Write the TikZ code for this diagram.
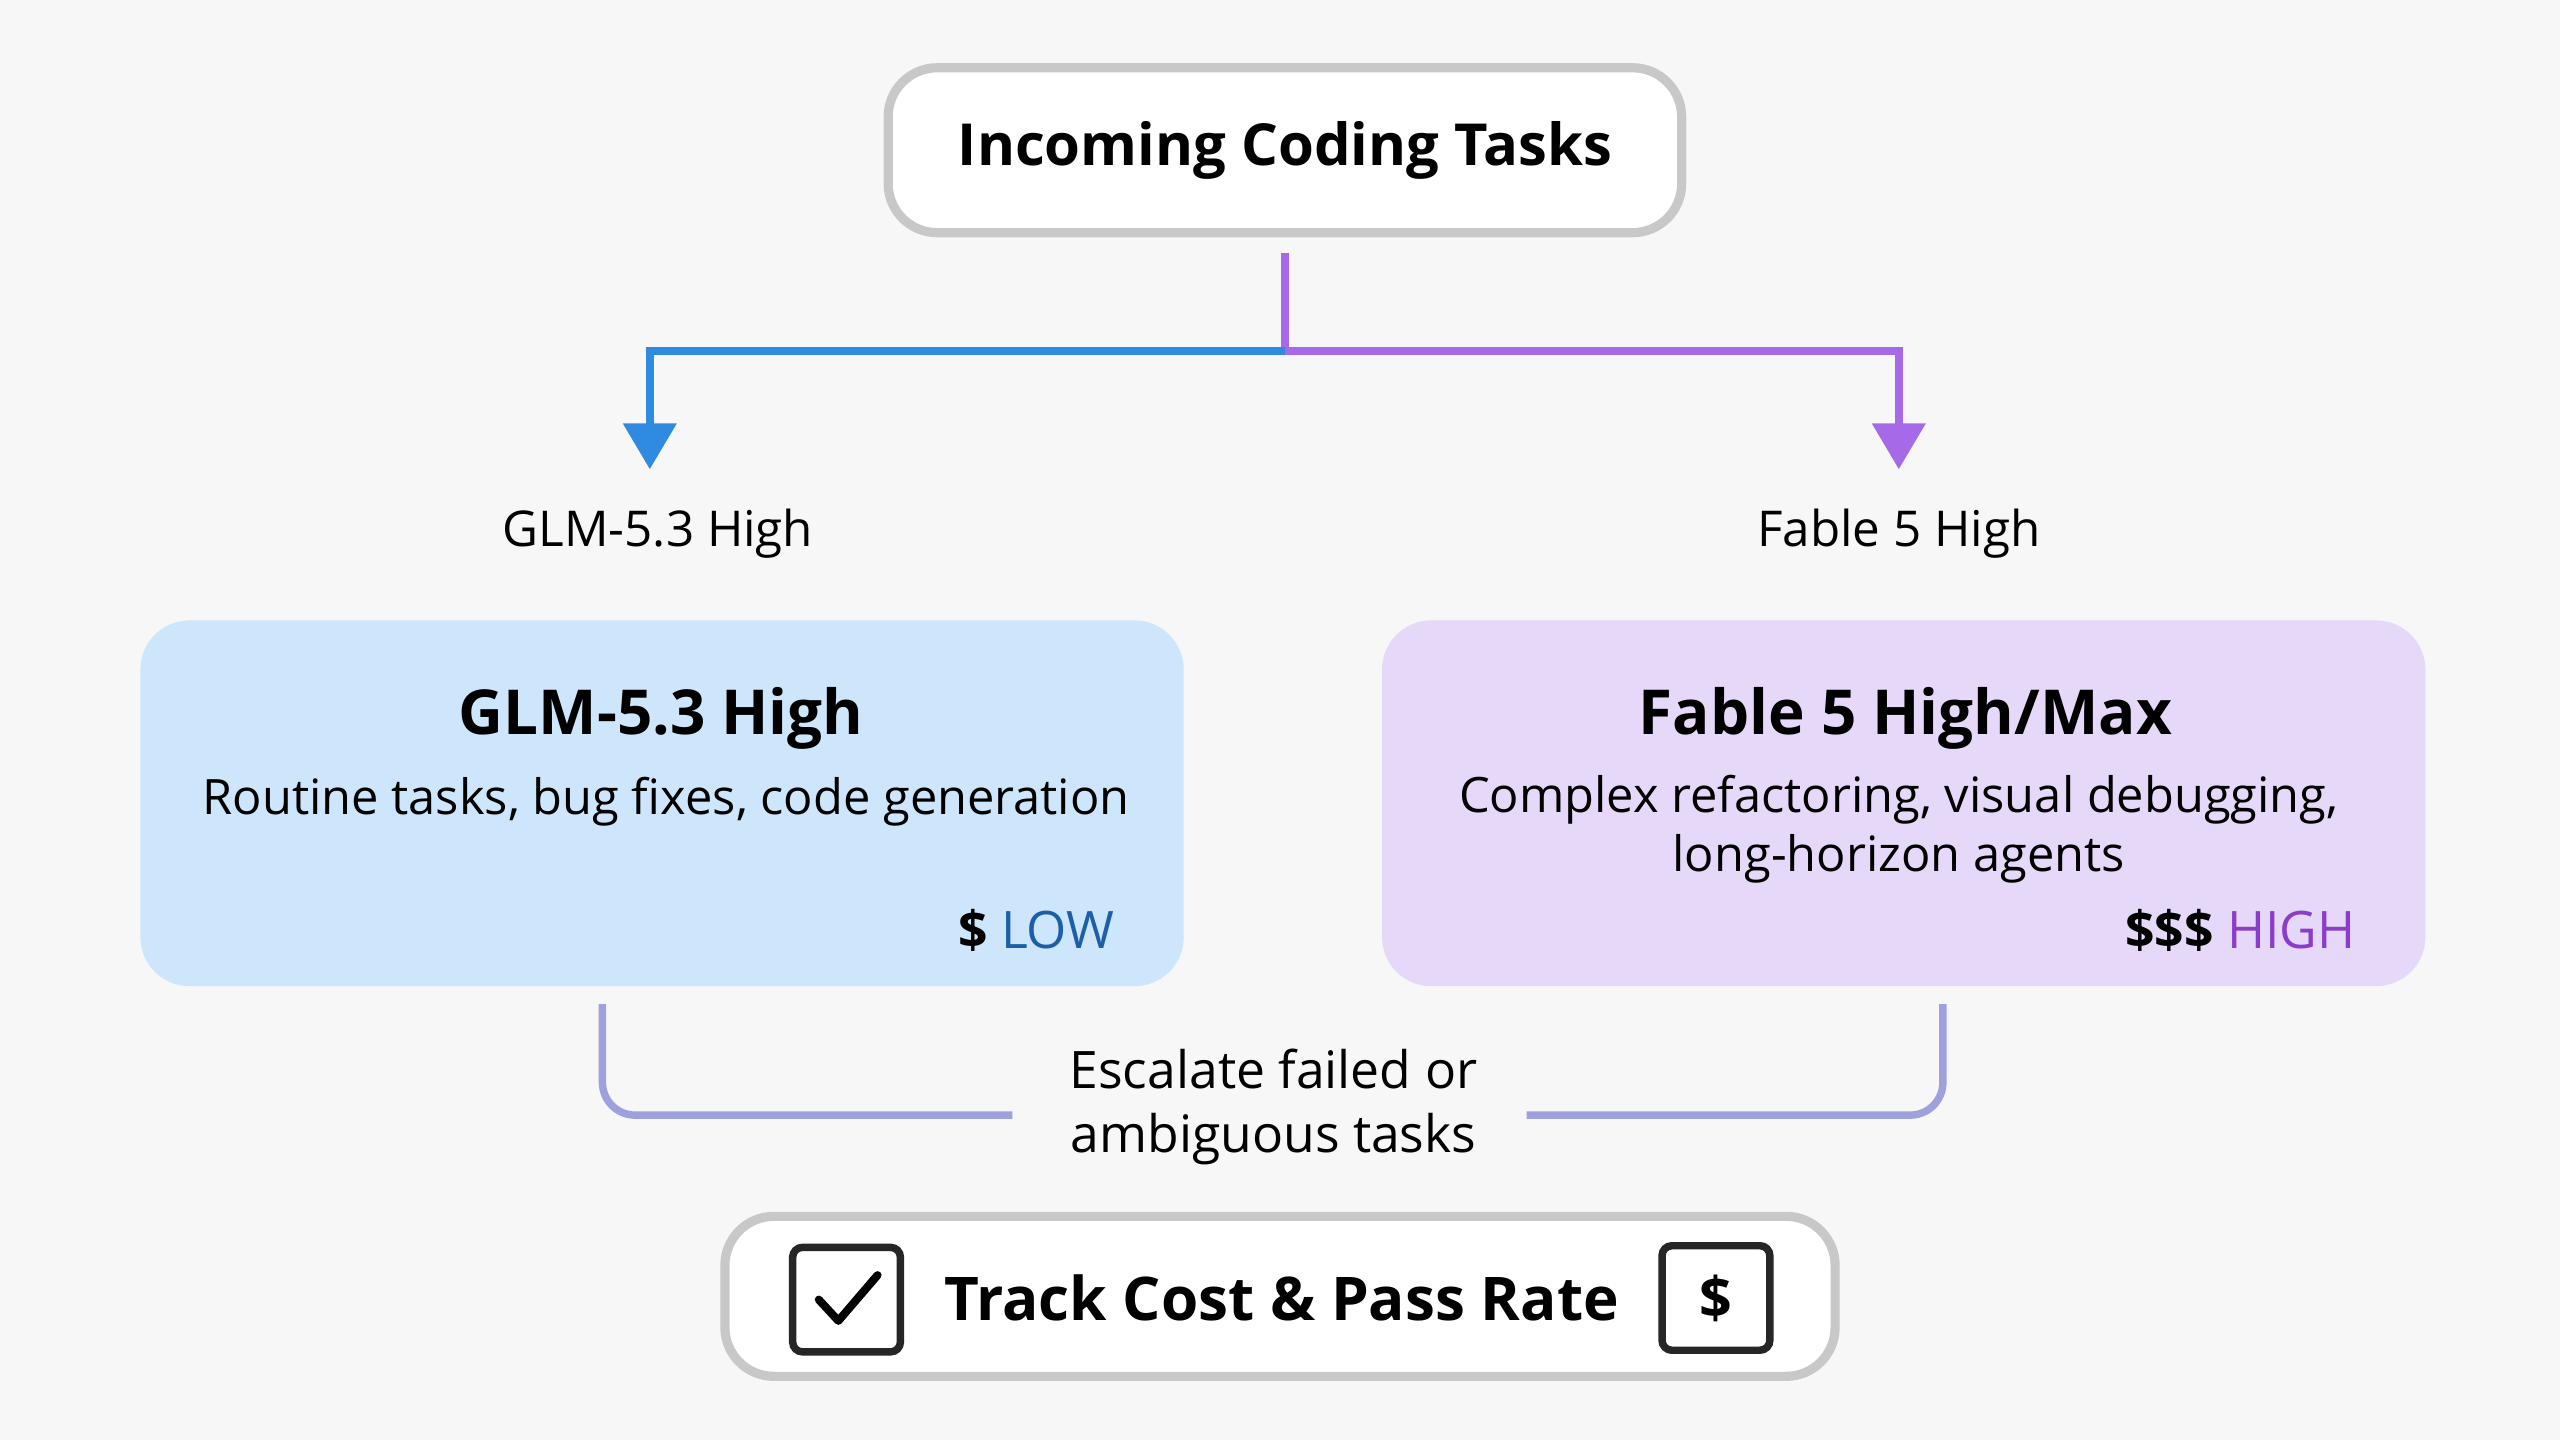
\documentclass[tikz,border=0pt]{standalone}
\usepackage{fontspec}
\setmainfont{Open Sans}
\usepackage{tikz}
\usetikzlibrary{calc, arrows.meta}
\definecolor{bgcol}{HTML}{F7F7F7}
\definecolor{boxgray}{HTML}{C8C8C8}
\definecolor{flowblue}{HTML}{2F8BE0}
\definecolor{flowpurple}{HTML}{A66AE8}
\definecolor{escpurple}{HTML}{9FA0DE}
\definecolor{lowfill}{HTML}{CDE6FB}
\definecolor{highfill}{HTML}{E5D8F9}
\definecolor{lowtext}{HTML}{1D5FA6}
\definecolor{hightext}{HTML}{8B3CC8}
\tikzset{
	whitebox/.style={draw=boxgray, line width=1.6pt, fill=white, rounded corners=0.3cm},
	tierbox/.style={rounded corners=0.3cm, minimum width=6.39cm, minimum height=2.24cm},
	flow/.style={line width=1.5pt, -{Triangle[width=9pt,length=8pt]}},
	smallbox/.style={draw=black!85, line width=1.3pt, rounded corners=0.06cm, minimum width=0.66cm, minimum height=0.64cm},
	desc/.style={font=\fontsize{8.5}{10.2}\selectfont, align=center}
}
\begin{document}
\begin{tikzpicture}
		\fill[bgcol] (0,0) rectangle (15.68,8.82);
		\useasboundingbox (0,0) rectangle (15.68,8.82);
		% top
		\node[whitebox, minimum width=4.86cm, minimum height=1.01cm] (tasks) at (7.87,7.90){\fontsize{10.1}{12}\selectfont\bfseries Incoming Coding Tasks};
		\coordinate (stem) at (7.87,7.27);
		\coordinate (split) at (7.87,6.67);
		\coordinate (lsplit) at (3.98,6.67);
		\coordinate (rsplit) at (11.63,6.67);
		\node (glmlabel) at (4.03,5.55){\fontsize{8.6}{10}\selectfont GLM-5.3 High};
		\node (fablelabel) at (11.63,5.55){\fontsize{8.6}{10}\selectfont Fable 5 High};
		\draw[line width=1.5pt, flowpurple] (stem) -- (split);
		\draw[flow, flowblue] (split) -- (lsplit) -- ($(glmlabel.north -| lsplit)+(0,0.12)$);
		\draw[flow, flowpurple] (split) -- (rsplit) -- ($(fablelabel.north -| rsplit)+(0,0.12)$);
		% tiers
		\node[tierbox, fill=lowfill] (low) at (4.055,3.90){};
		\node[tierbox, fill=highfill] (high) at (11.66,3.90){};
		\node (lowtitle) at (4.05,4.42){\fontsize{10.8}{13}\selectfont\bfseries GLM-5.3 High};
		\node[desc] (lowdesc) at (4.08,3.91){Routine tasks, bug fixes, code generation};
		\node[anchor=east] (lowcost) at (6.95,3.12){\fontsize{9}{11}\selectfont\textbf{\$} \textcolor{lowtext}{LOW}};
		\node (hightitle) at (11.67,4.42){\fontsize{10.8}{13}\selectfont\bfseries Fable 5 High/Max};
		\node[desc] (highdesc) at (11.63,3.74){Complex refactoring, visual debugging,\\long-horizon agents};
		\node[anchor=east] (highcost) at (14.55,3.12){\fontsize{9}{11}\selectfont\textbf{\$\$\$} \textcolor{hightext}{HIGH}};
		% escalate
		\node[desc, font=\fontsize{9}{11}\selectfont] (escalate) at (7.80,2.04){Escalate failed or\\ambiguous tasks};
		\coordinate (lesc) at (3.69,2.67);
		\coordinate (resc) at (11.90,2.67);
		\draw[escpurple, line width=1.3pt, rounded corners=0.2cm] (lesc) -- (3.69,1.99) -- (6.20,1.99);
		\draw[escpurple, line width=1.3pt, rounded corners=0.2cm] (resc) -- (11.90,1.99) -- (9.35,1.99);
		% bottom
		\node[whitebox, minimum width=6.80cm, minimum height=0.98cm] (track) at (7.84,0.88){};
		\node (tracktext) at (7.85,0.87){\fontsize{10.5}{12}\selectfont\bfseries Track Cost \& Pass Rate};
		\node[smallbox] (check) at (5.185,0.86){};
		\draw[line width=1.4pt, line cap=round, line join=round] ($(check)+(-0.17,0.0)$) -- ($(check)+(-0.05,-0.13)$) -- ($(check)+(0.19,0.15)$);
		\node[smallbox] (dollar) at (10.51,0.87){\fontsize{10}{12}\selectfont\bfseries\$};
	\end{tikzpicture}
\end{document}
